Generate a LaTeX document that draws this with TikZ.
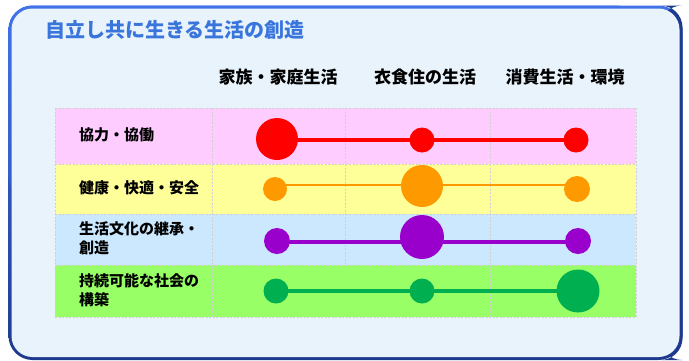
\documentclass[tikz,border=0pt]{standalone}
\usepackage{fontspec}
\newfontfamily\jp{Noto Sans CJK JP}
\pgfdeclarelayer{bg}
\pgfdeclarelayer{mid}
\pgfsetlayers{bg,mid,main}
\definecolor{boxfill}{HTML}{E8F3FC}
\definecolor{bluetop}{HTML}{4172E8}
\definecolor{bluebot}{HTML}{1E3A8E}
\definecolor{titleblue}{HTML}{3A75DC}
\definecolor{rowpink}{HTML}{FFCCFF}
\definecolor{rowyellow}{HTML}{FFFF99}
\definecolor{rowblue}{HTML}{CCE8FF}
\definecolor{rowgreen}{HTML}{99FF66}
\definecolor{cred}{HTML}{FF0000}
\definecolor{corange}{HTML}{FF9900}
\definecolor{cpurple}{HTML}{9900CC}
\definecolor{cgreen}{HTML}{00B050}
\definecolor{gridgray}{HTML}{D0D0D0}
\tikzset{
  dot/.style={circle, inner sep=0pt, draw=none, minimum size=#1},
  title/.style={anchor=west, inner sep=0pt, text=titleblue, font=\jp\bfseries\fontsize{20}{24}\selectfont},
  colhead/.style={inner sep=0pt, font=\jp\bfseries\fontsize{17}{20}\selectfont},
  rowlabel/.style={anchor=west, inner sep=0pt, align=left, font=\jp\bfseries\fontsize{15}{19}\selectfont},
  gridline/.style={draw=gridgray, dashed, dash pattern=on 2pt off 1.5pt, line width=0.8pt},
  bar/.style={line width=3.4pt}
}
\begin{document}
\begin{tikzpicture}[x=1pt,y=-1pt]
\useasboundingbox (0,0) rectangle (689,360);
\begin{pgfonlayer}{bg}
  % outer frame
  \shade[rounded corners=24pt, top color=bluetop, bottom color=bluebot] (8.5,5.5) rectangle (682.5,360);
  \fill[bluebot, rounded corners=22pt] (660,5.5) -- (682.5,5.5) -- (682.5,360) -- (660,360) -- cycle;
  \shade[rounded corners=24pt, top color=bluetop, bottom color=bluetop!60!bluebot] (8.5,5.5) rectangle (640,200);
  \fill[boxfill, rounded corners=21pt] (11.5,8.5) rectangle (679.5,357);
  % rows
  \fill[rowpink]   (55,108) rectangle (636,164);
  \fill[rowyellow] (55,164) rectangle (636,214);
  \fill[rowblue]   (55,214) rectangle (636,265);
  \fill[rowgreen]  (55,265) rectangle (636,317);
  \foreach \yy in {108,164,214,265,317} \draw[gridline] (55,\yy) -- (636,\yy);
  \foreach \xx in {55,212,345,490,636} \draw[gridline] (\xx,108) -- (\xx,317);
\end{pgfonlayer}

\node[title] (t) at (45,30) {自立し共に生きる生活の創造};

\node[colhead] (h1) at (278,77) {家族・家庭生活};
\node[colhead] (h2) at (425,77) {衣食住の生活};
\node[colhead] (h3) at (565,77) {消費生活・環境};

\node[rowlabel] (l1) at (79,135) {協力・協働};
\node[rowlabel] (l2) at (79,188) {健康・快適・安全};
\node[rowlabel] (l3) at (79,238) {生活文化の継承・\\創造};
\node[rowlabel] (l4) at (79,290) {持続可能な社会の\\構築};

% circles
\node[dot=42pt, fill=cred] (r1) at (277,139) {};
\node[dot=25pt, fill=cred] (r2) at (422,140) {};
\node[dot=25pt, fill=cred] (r3) at (576,140) {};

\node[dot=24pt, fill=corange] (o1) at (275,189) {};
\node[dot=42pt, fill=corange] (o2) at (422,186) {};
\node[dot=26pt, fill=corange] (o3) at (577,189) {};

\node[dot=26pt, fill=cpurple] (p1) at (277,241) {};
\node[dot=44pt, fill=cpurple] (p2) at (422,237) {};
\node[dot=26pt, fill=cpurple] (p3) at (578,241) {};

\node[dot=25pt, fill=cgreen] (g1) at (276,291) {};
\node[dot=25pt, fill=cgreen] (g2) at (422,291) {};
\node[dot=43pt, fill=cgreen] (g3) at (578,291) {};

\coordinate (y1) at (0,140);
\coordinate (y2) at (0,185);
\coordinate (y3) at (0,242);
\coordinate (y4) at (0,291);

\begin{pgfonlayer}{mid}
  \draw[bar, cred] (r1 |- y1) -- (r3 |- y1);
  \draw[bar, corange, line width=2.6pt] (o1 |- y2) -- (o3 |- y2);
  \draw[bar, cpurple, line width=3.8pt] (p1 |- y3) -- (p3 |- y3);
  \draw[bar, cgreen] (g1 |- y4) -- (g3 |- y4);
\end{pgfonlayer}
\end{tikzpicture}
\end{document}
